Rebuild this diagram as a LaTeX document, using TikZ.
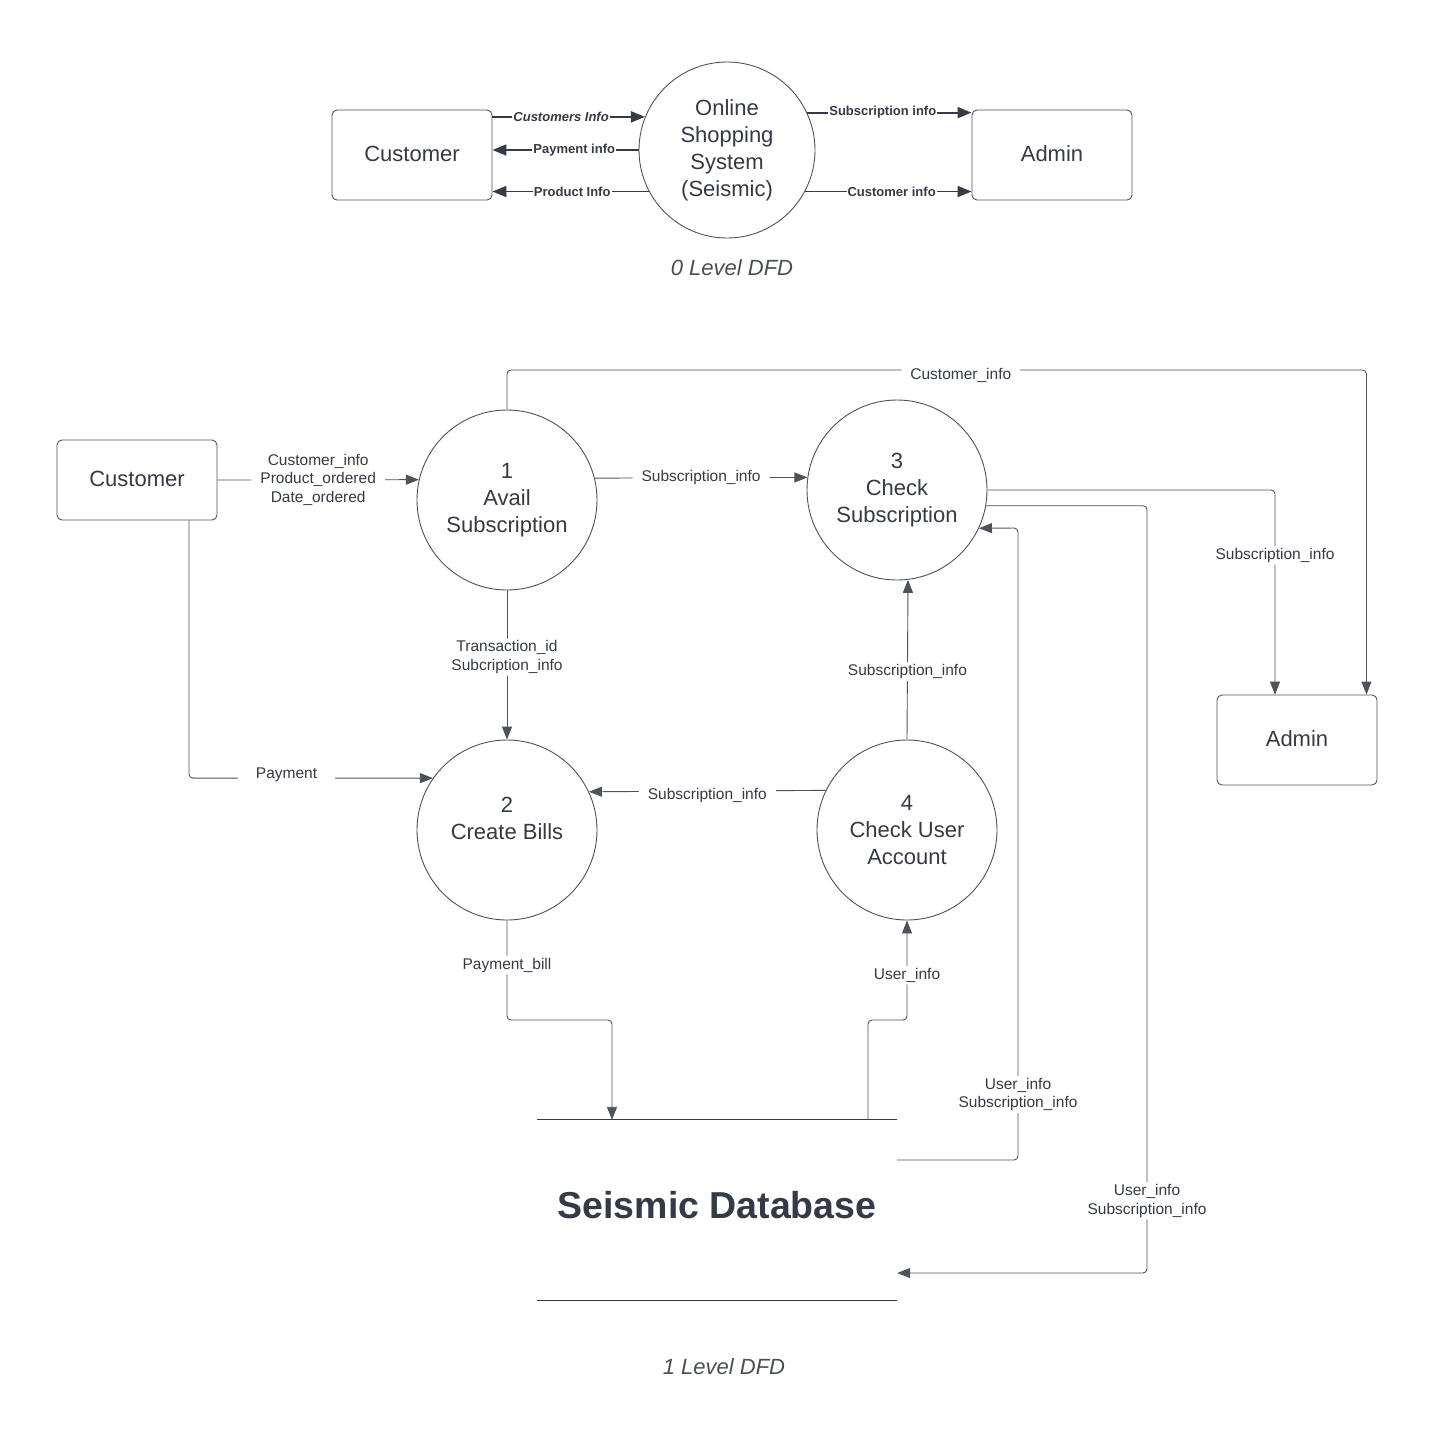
\documentclass[tikz,border=0pt]{standalone}
\usepackage{fontspec}
\setmainfont{Liberation Sans}
\usetikzlibrary{arrows.meta}
\definecolor{ink}{HTML}{343A46}
\definecolor{wire}{HTML}{4D535C}
\definecolor{caption}{HTML}{4A4F57}

\begin{document}
\begin{tikzpicture}[x=1pt,y=-1pt,
  box/.style={draw=wire, line width=0.9pt, rounded corners=5pt, minimum width=160pt,
              minimum height=90pt, text=ink, font=\fontsize{22}{27}\selectfont},
  proc/.style={circle, draw=wire, line width=0.9pt, minimum size=180pt, inner sep=0pt,
               align=center, text=ink, font=\fontsize{22}{27}\selectfont},
  bold flow/.style={draw=ink, line width=1.8pt, -{Triangle[length=14pt,width=11pt]}},
  flow/.style={draw=wire, line width=0.9pt, rounded corners=4pt,
               -{Triangle[length=13pt,width=10pt]}},
  blbl/.style={fill=white, text=ink, inner xsep=1pt, inner ysep=1pt,
               font=\fontsize{13}{15}\selectfont\bfseries},
  lbl/.style={fill=white, text=ink, align=center, inner xsep=9pt, inner ysep=2pt,
              font=\fontsize{15.5}{18.5}\selectfont},
  title/.style={text=caption, font=\fontsize{22}{26}\selectfont\itshape},
  store/.style={minimum width=360pt, minimum height=180pt, inner sep=0pt},
]
\useasboundingbox[fill=white] (0,0) rectangle (1437,1444);

% ---------------- context diagram ----------------
\node[box] (cust0) at (412,155) {\raisebox{2pt}{Customer}};
\node[box] (admin0) at (1052,155) {\raisebox{2pt}{Admin}};
\node[proc, minimum size=176pt] (sys) at (727,150) {Online\\Shopping\\System\\(Seismic)};

\draw[bold flow] (cust0.east |- sys.158) -- node[blbl, pos=0.45, font=\fontsize{13}{15}\selectfont\bfseries\itshape] {Customers Info} (sys.158);
\draw[bold flow] (sys.west) -- node[blbl, pos=0.44] {Payment info} (cust0.east |- sys.west);
\draw[bold flow] (sys.208.5) -- node[blbl, pos=0.49] {Product Info} (cust0.east |- sys.208.5);
\draw[bold flow] (sys.25) -- node[blbl, pos=0.46] {Subscription info} (admin0.west |- sys.25);
\draw[bold flow] (sys.-28.5) -- node[blbl, pos=0.52] {Customer info} (admin0.west |- sys.-28.5);

\node[title] (t0) at (732,268) {0 Level DFD};

% ---------------- level 1 diagram ----------------
\node[box, minimum height=80pt] (cust1) at (137,480) {\raisebox{3pt}{Customer}};
\node[box] (admin1) at (1297,740) {\raisebox{3pt}{Admin}};
\node[proc] (p1) at (507,500) {1\\Avail\\Subscription};
\node[proc] (p3) at (897,490) {3\\Check\\Subscription};
\node[proc] (p2) at (507,830) {2\\Create Bills\\[-4pt]};
\node[proc] (p4) at (907,830) {4\\Check User\\Account};

% data store
\node[store] (db) at (717,1210) {};
\draw[draw=ink, line width=0.9pt] (db.north west) -- (db.north east);
\draw[draw=ink, line width=0.9pt] (db.south west) -- (db.south east);
\node[text=ink, font=\fontsize{37.5}{42}\selectfont\bfseries] (dbname) at (717,1205) {Seismic Database};

\coordinate (adminR) at ([xshift=-11pt]admin1.north east);
\coordinate (adminL) at ([xshift=-22pt]admin1.north);

% customer -> 1
\draw[flow] (cust1.east) -- node[lbl] {Customer\_info\\Product\_ordered\\Date\_ordered} (p1.167.2);
% 1 -> admin
\draw[flow] (p1.north) |- node[lbl, pos=0.764, yshift=-5pt] {Customer\_info} (adminR |- 0,370) -- (adminR);
% 1 -> 3
\draw[flow] (p1.14) -- node[lbl] {Subscription\_info} (p3.172.3);
% 3 -> admin
\draw[flow] (p3.east) -| node[lbl, pos=0.66] {Subscription\_info} (adminL);
% 3 -> store
\draw[flow] (p3.-10.2) -| node[lbl, pos=0.953] {User\_info\\Subscription\_info} (1147,1273) -- (db.east |- 0,1273);
% store -> 3
\draw[flow] (db.east |- 0,1160) -| node[lbl, pos=0.552] {User\_info\\Subscription\_info} (1018,528) -- (p3.-25);
% 1 -> 2
\draw[flow] (p1.south) -- node[lbl, pos=0.447] {Transaction\_id\\Subcription\_info} (p2.north);
% customer -> 2
\draw[flow] ([xshift=52pt]cust1.south) |- node[lbl, pos=0.70, inner xsep=18pt, yshift=3pt] {Payment} (p2.145.5);
% 4 -> 2
\draw[flow] (p4.154.3) -- node[lbl, yshift=-4pt] {Subscription\_info} (p2.25.7);
% 4 -> 3
\draw[flow] (p4.north) -- node[lbl, pos=0.425] {Subscription\_info} (p3.-83.6);
% 2 -> store
\draw[flow] (p2.south) -- node[lbl, pos=0.45] {Payment\_bill} (p2.south |- 0,1020) -| ([xshift=-105pt]db.north);
% store -> 4
\draw[flow] ([xshift=151pt]db.north) |- (p4.south |- 0,1020) -- node[lbl, pos=0.45] {User\_info} (p4.south);

\node[title] (t1) at (724,1367) {1 Level DFD};
\end{tikzpicture}
\end{document}
